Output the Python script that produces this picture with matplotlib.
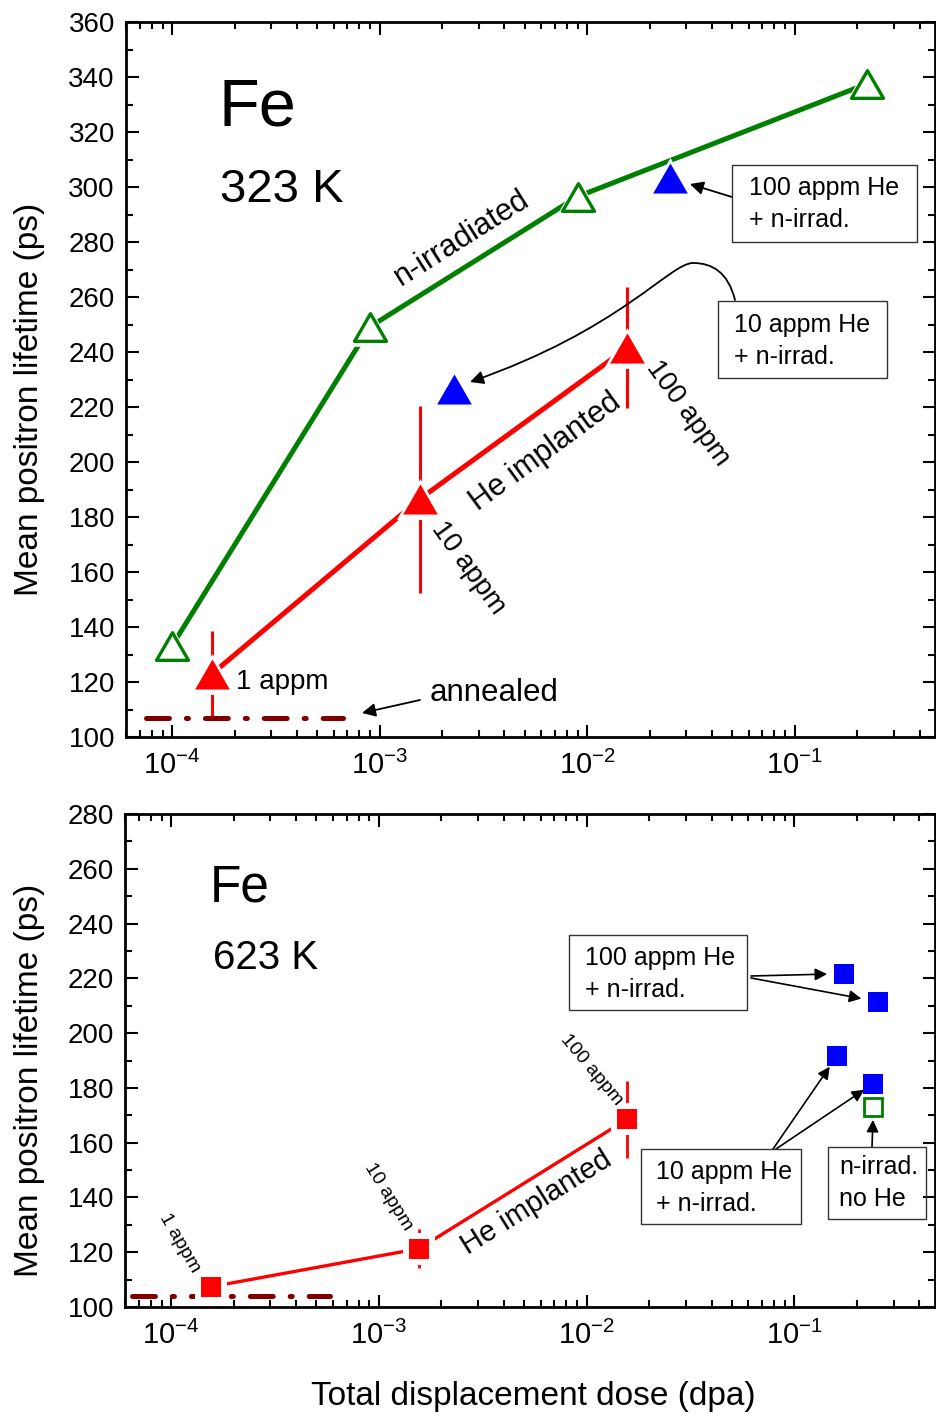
import numpy as np
import matplotlib
import matplotlib.pyplot as plt
from matplotlib.path import Path
from matplotlib.patches import Rectangle, FancyArrowPatch
from matplotlib.transforms import Affine2D
from matplotlib.ticker import LogLocator, MultipleLocator, NullFormatter

plt.rcParams['font.family'] = ['Liberation Sans', 'DejaVu Sans']
plt.rcParams['mathtext.default'] = 'regular'
plt.rcParams['axes.unicode_minus'] = False
plt.rcParams['lines.scale_dashes'] = False

# ---------------- data: 323 K (top panel)
n_irr_dose = [1.0e-4, 9.0e-4, 9.0e-3, 0.223]
n_irr_tau = [133.2, 249.2, 296.5, 337.5]

he_dose = [1.56e-4, 1.56e-3, 1.56e-2]
he_tau_323 = [123.0, 186.5, 241.5]
he_err_323 = [15.5, 34.0, 22.0]

he_n_dose_323 = [2.29e-3, 0.0251]
he_n_tau_323 = [226.5, 303.3]

annealed_dose_323 = [7.45e-5, 6.7e-4]
annealed_tau_323 = [106.9, 106.9]

# ---------------- data: 623 K (bottom panel)
he_tau_623 = [107.4, 121.3, 168.5]
he_err_623 = [0.0, 7.0, 14.0]

he100_n_dose_623 = [0.173, 0.252]
he100_n_tau_623 = [221.7, 211.5]
he10_n_dose_623 = [0.160, 0.240]
he10_n_tau_623 = [191.5, 181.6]
n_only_dose_623 = [0.240]
n_only_tau_623 = [172.9]

annealed_dose_623 = [6.45e-5, 5.85e-4]
annealed_tau_623 = [104.0, 104.0]

GREEN = '#008000'
RED = '#ff0000'
BLUE = '#0000ff'
DKRED = '#800000'

W, H = 936, 1416
fig = plt.figure(figsize=(W / 100, H / 100), dpi=100)
# transform: reference pixel coordinates (origin top-left)
pix = Affine2D().scale(1 / W, -1 / H).translate(0, 1) + fig.transFigure

ax1 = fig.add_axes([126 / W, 1 - 737 / H, (935 - 126) / W, (737 - 22) / H])
ax2 = fig.add_axes([125 / W, 1 - 1307 / H, (935 - 125) / W, (1307 - 814) / H])

tri = Path([(0, 0.866), (-1, -0.866), (1, -0.866), (0, 0.866)], closed=True)


def style_axis(ax, ymin, ymax):
    ax.set_xscale('log')
    ax.set_xlim(6.0e-5, 0.475)
    ax.set_ylim(ymin, ymax)
    ax.yaxis.set_major_locator(MultipleLocator(20))
    ax.yaxis.set_minor_locator(MultipleLocator(10))
    ax.xaxis.set_major_locator(LogLocator(base=10, numticks=12))
    ax.xaxis.set_minor_locator(LogLocator(base=10, subs=np.arange(2, 10), numticks=12))
    ax.xaxis.set_minor_formatter(NullFormatter())
    ax.tick_params(which='both', direction='in', top=True, right=True,
                   width=1.5, labelsize=20)
    ax.tick_params(which='major', length=9)
    ax.tick_params(which='minor', length=5)
    ax.tick_params(axis='x', pad=10, labelsize=21)
    ax.tick_params(axis='y', pad=8)
    for s in ax.spines.values():
        s.set_linewidth(2)


def marker_with_gap(ax, x, y, marker, ms, face, edge, mew):
    # white halo under the marker gives the gap in lines and error bars
    ax.plot(x, y, ls='none', marker=marker, ms=ms + 9, mfc='white', mec='white',
            mew=0, zorder=3)
    ax.plot(x, y, ls='none', marker=marker, ms=ms, mfc=face, mec=edge,
            mew=mew, zorder=4)


# ---------------- top panel
style_axis(ax1, 100, 360)
ax1.plot(n_irr_dose, n_irr_tau, color=GREEN, lw=3.6, zorder=2)
marker_with_gap(ax1, n_irr_dose, n_irr_tau, tri, 23, 'white', GREEN, 2.4)

ax1.errorbar(he_dose, he_tau_323, yerr=he_err_323, fmt='none', ecolor=RED,
             elinewidth=2.2, capsize=0, zorder=2)
ax1.plot(he_dose, he_tau_323, color=RED, lw=3.6, zorder=2)
marker_with_gap(ax1, he_dose, he_tau_323, tri, 25, RED, RED, 0)

marker_with_gap(ax1, he_n_dose_323, he_n_tau_323, tri, 25, BLUE, BLUE, 0)

ax1.plot(annealed_dose_323, annealed_tau_323, color=DKRED, lw=3.6,
         dashes=(16.5, 12.2, 1.5, 12.2), dash_capstyle='round', zorder=2)

fig.text(218, 108, 'Fe', transform=pix, fontsize=48, ha='left', va='center')
fig.text(220, 190, '323 K', transform=pix, fontsize=34, ha='left', va='center')
fig.text(462, 238, 'n-irradiated', transform=pix, fontsize=22, rotation=32.3,
         ha='center', va='center', rotation_mode='anchor')
fig.text(545, 452, 'He implanted', transform=pix, fontsize=22, rotation=36.2,
         ha='center', va='center', rotation_mode='anchor')
fig.text(468, 568, '10 appm', transform=pix, fontsize=20, rotation=-54,
         ha='center', va='center', rotation_mode='anchor')
fig.text(688, 413, '100 appm', transform=pix, fontsize=20, rotation=-54,
         ha='center', va='center', rotation_mode='anchor')
fig.text(236, 682, '1 appm', transform=pix, fontsize=20, ha='left', va='center')
fig.text(430, 693, 'annealed', transform=pix, fontsize=22.5, ha='left', va='center')
ax1.annotate('', xy=(362, 713), xycoords=pix, xytext=(420, 700), textcoords=pix,
             arrowprops=dict(arrowstyle='-|>', color='k', lw=1.3,
                             mutation_scale=20, shrinkA=0, shrinkB=0))

# boxes top
fig.add_artist(Rectangle((732, 242), 185, -77, transform=pix, fill=False,
                         ec='#333333', lw=1.0))
fig.text(749, 204, '100 appm He\n+ n-irrad.', transform=pix, fontsize=18,
         ha='left', va='center', linespacing=1.42)
ax1.annotate('', xy=(he_n_dose_323[1], he_n_tau_323[1]), xycoords='data',
             xytext=(732, 197), textcoords=pix,
             arrowprops=dict(arrowstyle='-|>', color='k', lw=1.3,
                             mutation_scale=20, shrinkA=0, shrinkB=15))

fig.add_artist(Rectangle((718, 378), 169, -77, transform=pix, fill=False,
                         ec='#333333', lw=1.0))
fig.text(734, 341, '10 appm He\n+ n-irrad.', transform=pix, fontsize=18,
         ha='left', va='center', linespacing=1.42)
curve = Path([(735, 300), (728, 272), (712, 263), (693, 263),
              (670, 263), (620, 330), (470, 382)],
             [Path.MOVETO, Path.CURVE4, Path.CURVE4, Path.CURVE4,
              Path.CURVE4, Path.CURVE4, Path.CURVE4])
fig.add_artist(FancyArrowPatch(path=curve, transform=pix, arrowstyle='-|>',
                               mutation_scale=20, color='k', lw=1.3))

# ---------------- bottom panel
style_axis(ax2, 100, 280)
ax2.errorbar(he_dose, he_tau_623, yerr=he_err_623, fmt='none', ecolor=RED,
             elinewidth=2.0, capsize=0, zorder=2)
ax2.plot(he_dose, he_tau_623, color=RED, lw=2.4, zorder=2)
marker_with_gap(ax2, he_dose, he_tau_623, 's', 14, RED, RED, 0)
marker_with_gap(ax2, he100_n_dose_623, he100_n_tau_623, 's', 14, BLUE, BLUE, 0)
marker_with_gap(ax2, he10_n_dose_623, he10_n_tau_623, 's', 14, BLUE, BLUE, 0)
ax2.plot(n_only_dose_623, n_only_tau_623, ls='none', marker='s', ms=12.5,
         mfc='white', mec=GREEN, mew=2.0, zorder=4)

ax2.plot(annealed_dose_623, annealed_tau_623, color=DKRED, lw=3.6,
         dashes=(16.5, 12.2, 1.5, 12.2), dash_capstyle='round', zorder=2)

fig.text(210, 888, 'Fe', transform=pix, fontsize=37, ha='left', va='center')
fig.text(213, 958, '623 K', transform=pix, fontsize=29, ha='left', va='center')
fig.text(180, 1243, '1 appm', transform=pix, fontsize=14, rotation=-60,
         ha='center', va='center', rotation_mode='anchor')
fig.text(388, 1197, '10 appm', transform=pix, fontsize=14, rotation=-58,
         ha='center', va='center', rotation_mode='anchor')
fig.text(591, 1070, '100 appm', transform=pix, fontsize=14, rotation=-50,
         ha='center', va='center', rotation_mode='anchor')
fig.text(536, 1203, 'He implanted', transform=pix, fontsize=21, rotation=32,
         ha='center', va='center', rotation_mode='anchor')

arrow_kw = dict(arrowstyle='-|>', color='k', lw=1.2, mutation_scale=18, shrinkA=0)

fig.add_artist(Rectangle((569, 1010), 178, -75, transform=pix, fill=False,
                         ec='#333333', lw=1.0))
fig.text(585, 974, '100 appm He\n+ n-irrad.', transform=pix, fontsize=18,
         ha='left', va='center', linespacing=1.42)
ax2.annotate('', xy=(he100_n_dose_623[0], he100_n_tau_623[0]), xycoords='data',
             xytext=(751, 976), textcoords=pix, arrowprops=dict(arrow_kw, shrinkB=12))
ax2.annotate('', xy=(he100_n_dose_623[1], he100_n_tau_623[1]), xycoords='data',
             xytext=(751, 978), textcoords=pix, arrowprops=dict(arrow_kw, shrinkB=12))

fig.add_artist(Rectangle((641, 1224), 160, -75, transform=pix, fill=False,
                         ec='#333333', lw=1.0))
fig.text(656, 1188, '10 appm He\n+ n-irrad.', transform=pix, fontsize=18,
         ha='left', va='center', linespacing=1.42)
ax2.annotate('', xy=(he10_n_dose_623[0], he10_n_tau_623[0]), xycoords='data',
             xytext=(773, 1149), textcoords=pix, arrowprops=dict(arrow_kw, shrinkB=9))
ax2.annotate('', xy=(he10_n_dose_623[1], he10_n_tau_623[1]), xycoords='data',
             xytext=(776, 1149), textcoords=pix, arrowprops=dict(arrow_kw, shrinkB=8))

fig.add_artist(Rectangle((828, 1219), 98, -72, transform=pix, fill=False,
                         ec='#333333', lw=1.0))
fig.text(839, 1183, 'n-irrad.\nno He', transform=pix, fontsize=18,
         ha='left', va='center', linespacing=1.42)
ax2.annotate('', xy=(n_only_dose_623[0], n_only_tau_623[0]), xycoords='data',
             xytext=(872, 1147), textcoords=pix, arrowprops=dict(arrow_kw, shrinkB=9))

# ---------------- axis titles
fig.text(30, 399, 'Mean positron lifetime (ps)', transform=pix, fontsize=24,
         rotation=90, ha='center', va='center')
fig.text(30, 1080, 'Mean positron lifetime (ps)', transform=pix, fontsize=24,
         rotation=90, ha='center', va='center')
fig.text(533, 1397, 'Total displacement dose (dpa)', transform=pix, fontsize=24,
         ha='center', va='center')

fig.savefig('out.png', dpi=100)
